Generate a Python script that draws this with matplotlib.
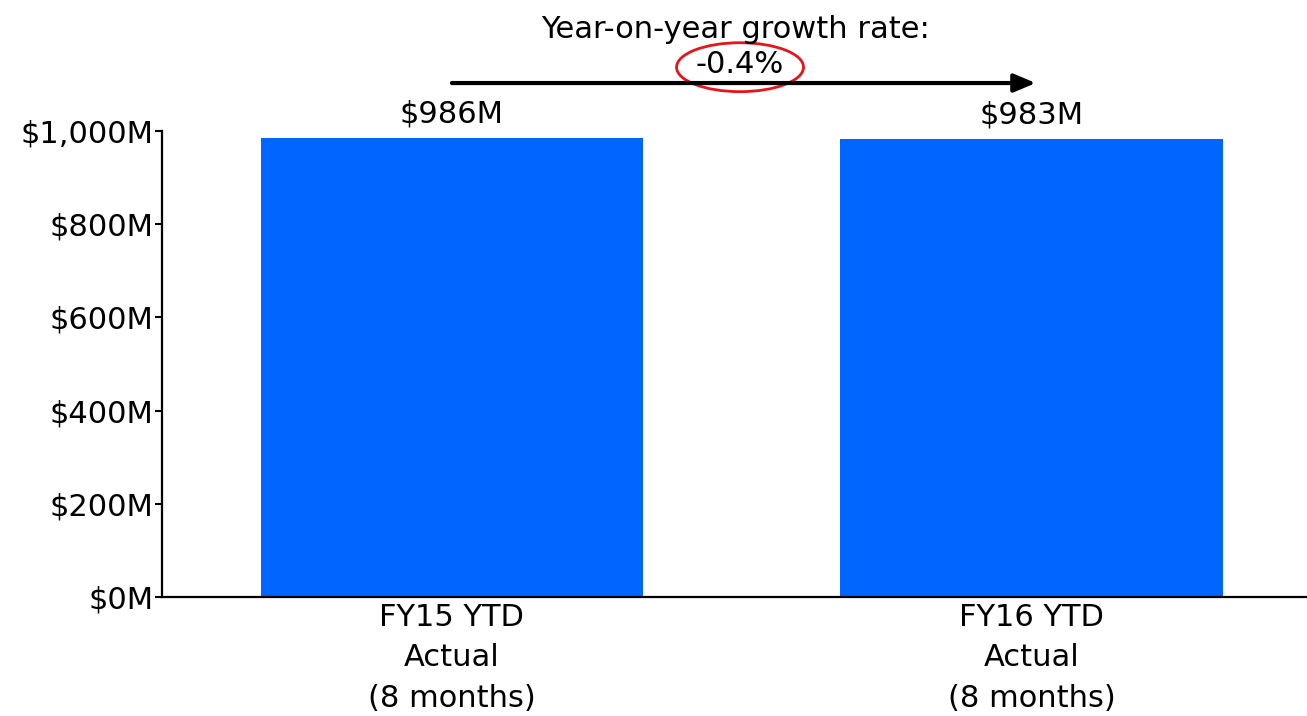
import matplotlib.pyplot as plt
from matplotlib.patches import Ellipse

categories = ["FY15 YTD\nActual\n(8 months)", "FY16 YTD\nActual\n(8 months)"]
revenue = [986, 983]  # $M
growth_rate = -0.4  # %
yticks = [0, 200, 400, 600, 800, 1000]

BAR_COLOR = "#0066FF"
FS = 22

plt.rcParams["font.family"] = ["DejaVu Sans"]

fig = plt.figure(figsize=(13.07, 7.16), dpi=100)
ax = fig.add_axes([0.124, 0.1662, 0.876, 0.6508])

x = list(range(len(categories)))
ax.bar(x, revenue, width=0.66, color=BAR_COLOR)

for xi, v in zip(x, revenue):
    ax.text(xi, v + 20, f"${v:,}M", ha="center", va="bottom", fontsize=FS)

ax.set_xlim(-0.5, 1.475)
ax.set_ylim(0, 1000)
ax.set_yticks(yticks)
ax.set_yticklabels([f"${t:,}M" for t in yticks], fontsize=FS)
ax.set_xticks(x)
ax.set_xticklabels(categories, fontsize=FS, linespacing=1.5)

ax.tick_params(axis="y", length=5, width=1.5, pad=1)
ax.tick_params(axis="x", length=0, pad=4)
for side in ["top", "right"]:
    ax.spines[side].set_visible(False)
for side in ["left", "bottom"]:
    ax.spines[side].set_linewidth(1.6)

# growth arrow between the two bars
ax.annotate("", xy=(x[1] + 0.007, 1103), xytext=(x[0], 1103),
            arrowprops=dict(arrowstyle="-|>,head_length=1.3,head_width=0.55",
                            color="black", lw=3, shrinkA=0, shrinkB=0),
            annotation_clip=False)

mid = (x[0] + x[1]) / 2
ax.text(mid - 0.01, 1217, "Year-on-year growth rate:", ha="center", va="center",
        fontsize=FS, clip_on=False)
ax.text(mid - 0.003, 1142, f"{growth_rate:.1f}%", ha="center", va="center",
        fontsize=FS, clip_on=False)
ax.add_patch(Ellipse((mid - 0.003, 1137), 0.219, 105, fill=False,
                     edgecolor="#E8141B", lw=2, clip_on=False))

fig.savefig("out.png", dpi=100)
